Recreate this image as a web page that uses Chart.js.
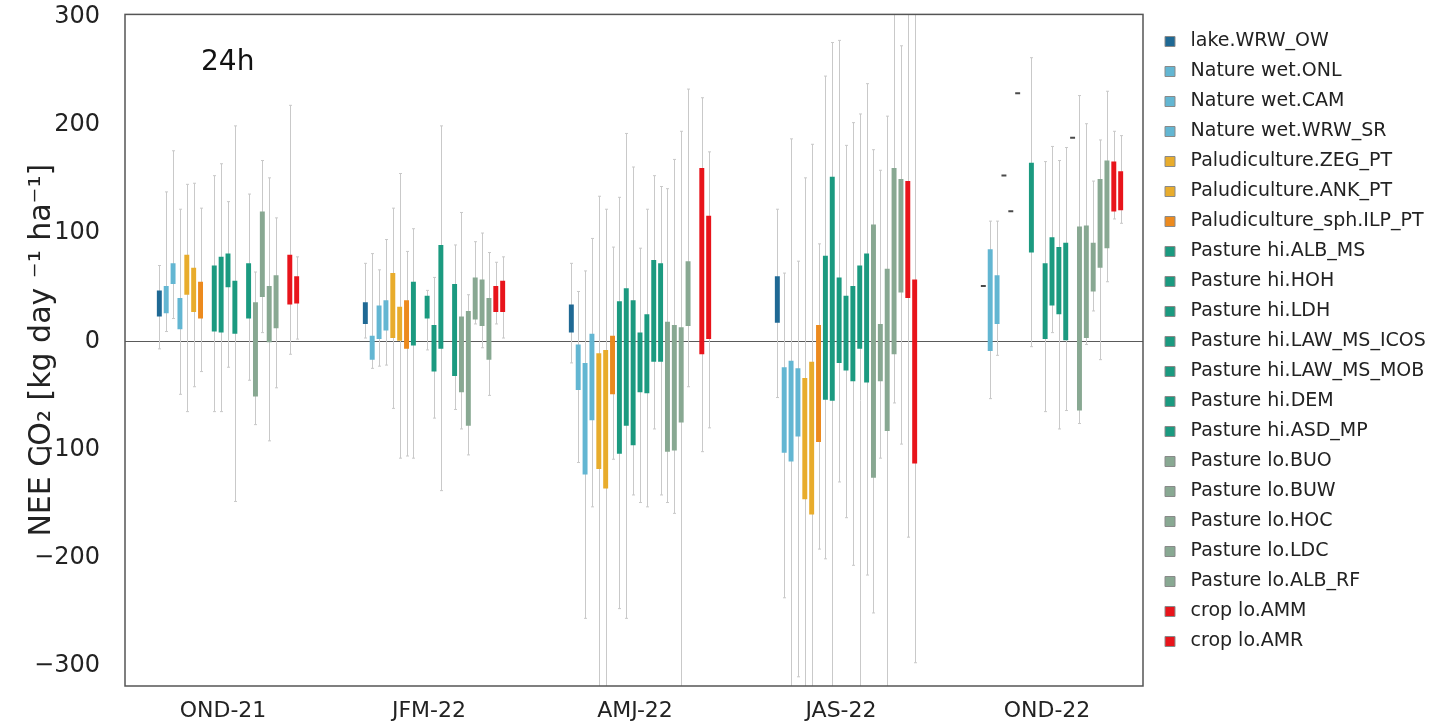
<!DOCTYPE html>
<html>
<head>
<meta charset="utf-8">
<script src="https://cdn.jsdelivr.net/npm/chart.js@4.4.1/dist/chart.umd.min.js"></script>
<style>
  html, body { margin: 0; padding: 0; background: #fff; }
  #wrap { position: relative; width: 1445px; height: 723px; }
</style>
</head>
<body>
<div id="wrap"><canvas id="nee"></canvas></div>
<script>
const quarters = ['OND-21', 'JFM-22', 'AMJ-22', 'JAS-22', 'OND-22'];

const sites = [
  'lake.WRW_OW',
  'Nature wet.ONL', 'Nature wet.CAM', 'Nature wet.WRW_SR',
  'Paludiculture.ZEG_PT', 'Paludiculture.ANK_PT', 'Paludiculture_sph.ILP_PT',
  'Pasture hi.ALB_MS', 'Pasture hi.HOH', 'Pasture hi.LDH', 'Pasture hi.LAW_MS_ICOS',
  'Pasture hi.LAW_MS_MOB', 'Pasture hi.DEM', 'Pasture hi.ASD_MP',
  'Pasture lo.BUO', 'Pasture lo.BUW', 'Pasture lo.HOC', 'Pasture lo.LDC', 'Pasture lo.ALB_RF',
  'crop lo.AMM', 'crop lo.AMR'
];

const siteColors = [
  '#1f6994',
  '#63b6d2', '#63b6d2', '#63b6d2',
  '#e8ac2c', '#e8ac2c', '#ec8a1e',
  '#1b9a80', '#1b9a80', '#1b9a80', '#1b9a80', '#1b9a80', '#1b9a80', '#1b9a80',
  '#88a892', '#88a892', '#88a892', '#88a892', '#88a892',
  '#e8141b', '#e8141b'
];

const yTicks = [-300, -200, -100, 0, 100, 200, 300];

// one value per site (same order as sites), null = no data that quarter
// lo/hi = whisker ends, q1/q3 = box
const lo_OND21 = [-7, 9, 21, -49, -65, -42, -28, null, -65, -65, -24, -148, null, -36, -77, 8, -92, -43, null, -12, 2];
const q1_OND21 = [23, 26, 53, 11, 43, 27, 21, null, 9, 8, 50, 7, null, 21, -51, 41, -1, 12, null, 34, 35];
const q3_OND21 = [47, 51, 72, 40, 80, 68, 55, null, 70, 78, 81, 56, null, 72, 36, 120, 51, 61, null, 80, 60];
const hi_OND21 = [70, 138, 176, 122, 145, 146, 123, null, 153, 164, 129, 199, null, 136, 64, 167, 151, 114, null, 218, 78];

const lo_JFM22 = [3, -25, -23, -22, -62, -108, -106, -108, null, -8, -71, -138, null, -63, -81, -105, 16, -6, -50, 16, 3];
const q1_JFM22 = [16, -17, 2, 10, 3, 0, -7, -4, null, 21, -28, -7, null, -32, -47, -78, 20, 14, -17, 27, 27];
const q3_JFM22 = [36, 5, 33, 38, 63, 32, 38, 55, null, 42, 15, 89, null, 53, 23, 28, 59, 57, 40, 51, 56];
const hi_JFM22 = [72, 81, 66, 94, 123, 155, 83, 104, null, 47, 59, 199, null, 89, 119, 43, 92, 100, 82, 73, 78];

const lo_AMJ22 = [-20, -112, -256, -153, -330, -330, -109, -247, -256, -142, -149, -153, -81, -142, -149, -159, -330, -42, null, -102, -80];
const q1_AMJ22 = [8, -45, -123, -73, -118, -136, -49, -104, -78, -96, -47, -48, -19, -19, -102, -101, -75, 14, null, -12, 2];
const q3_AMJ22 = [34, -3, -20, 7, -11, -8, 5, 37, 49, 38, 8, 25, 75, 72, 18, 15, 13, 74, null, 160, 116];
const hi_AMJ22 = [72, 46, 65, 95, 134, 122, 87, 133, 192, 161, 86, 122, 153, 143, 141, 168, 194, 233, null, 225, 175];

const lo_JAS22 = [-52, -237, -330, -310, -330, -330, -192, -201, -330, -130, -163, -207, -330, -216, -251, -108, -330, -57, -95, -181, -297];
const q1_JAS22 = [17, -103, -111, -88, -146, -160, -93, -54, -55, -20, -27, -37, -7, -38, -126, -37, -83, -12, 45, 40, -113];
const q3_JAS22 = [60, -24, -18, -25, -34, -19, 15, 79, 152, 59, 42, 51, 70, 81, 108, 16, 67, 160, 150, 148, 57];
const hi_JAS22 = [122, 63, 187, 74, 151, 182, 90, 245, 276, 278, 181, 202, 210, 238, 177, 158, 208, 330, 273, 330, 330];

const lo_OND22 = [52, -53, -13, 154, 121, 230, null, -5, null, -65, 8, -81, -64, 189, -76, -3, 28, -17, 55, 113, 109];
const q1_OND22 = [52, -9, 16, 154, 121, 230, null, 82, null, 2, 33, 25, 1, 189, -64, 3, 46, 68, 86, 120, 121];
const q3_OND22 = [52, 85, 61, 154, 121, 230, null, 165, null, 72, 96, 87, 91, 189, 106, 107, 91, 150, 167, 166, 157];
const hi_OND22 = [52, 111, 111, 154, 121, 230, null, 262, null, 166, 180, 167, 179, 189, 227, 201, 148, 186, 231, 194, 190];

const loAll = [lo_OND21, lo_JFM22, lo_AMJ22, lo_JAS22, lo_OND22];
const q1All = [q1_OND21, q1_JFM22, q1_AMJ22, q1_JAS22, q1_OND22];
const q3All = [q3_OND21, q3_JFM22, q3_AMJ22, q3_JAS22, q3_OND22];
const hiAll = [hi_OND21, hi_JFM22, hi_AMJ22, hi_JAS22, hi_OND22];

const FONT = 'DejaVu Sans';

const datasets = sites.map((name, s) => ({
  label: name,
  data: quarters.map((q, c) => q1All[c][s] === null ? null : [q1All[c][s], q3All[c][s]]),
  whiskers: quarters.map((q, c) => loAll[c][s] === null ? null : [loAll[c][s], hiAll[c][s]]),
  // a box that is only one value shows as a dark dash
  backgroundColor: ctx => {
    const v = ctx.raw;
    return (v && v[0] === v[1]) ? '#4a4a4a' : siteColors[s];
  },
  legendColor: siteColors[s],
  borderWidth: 0,
  borderSkipped: false,
  minBarLength: 2,
  barPercentage: 0.72,
  categoryPercentage: 0.70
}));

// thin grey whiskers behind the boxes
const whiskerPlugin = {
  id: 'whiskers',
  beforeDatasetsDraw(chart) {
    const { ctx, chartArea, scales: { y } } = chart;
    ctx.save();
    ctx.beginPath();
    ctx.rect(chartArea.left, chartArea.top, chartArea.width, chartArea.height);
    ctx.clip();
    ctx.strokeStyle = '#c9c9c9';
    ctx.lineWidth = 1;
    chart.data.datasets.forEach((ds, i) => {
      if (!chart.isDatasetVisible(i)) return;
      chart.getDatasetMeta(i).data.forEach((bar, j) => {
        const w = ds.whiskers[j];
        if (!w || w[0] === w[1]) return;
        const x = Math.round(bar.x) + 0.5;
        const yLo = y.getPixelForValue(w[0]);
        const yHi = y.getPixelForValue(w[1]);
        ctx.beginPath();
        ctx.moveTo(x, yLo); ctx.lineTo(x, yHi);
        ctx.moveTo(x - 1.5, yLo); ctx.lineTo(x + 1.5, yLo);
        ctx.moveTo(x - 1.5, yHi); ctx.lineTo(x + 1.5, yHi);
        ctx.stroke();
      });
    });
    ctx.restore();
  }
};

// frame round the plot + the "24h" note
const framePlugin = {
  id: 'frame',
  afterDraw(chart) {
    const { ctx, chartArea } = chart;
    ctx.save();
    ctx.strokeStyle = '#555';
    ctx.lineWidth = 1.5;
    ctx.strokeRect(chartArea.left, chartArea.top, chartArea.width, chartArea.height);
    ctx.fillStyle = '#111';
    ctx.font = '28px "' + FONT + '"';
    ctx.textBaseline = 'middle';
    ctx.fillText('24h', chartArea.left + 76, chartArea.top + 48);
    ctx.restore();
  }
};

// fixed legend width, legend nudged, quarters spaced a bit wider than the frame (as in the original)
const layoutPlugin = {
  id: 'layoutTweaks',
  beforeInit(chart) {
    const origFit = chart.legend.fit;
    chart.legend.fit = function () {
      origFit.call(this);
      this.width = 302;
    };
  },
  afterLayout(chart) {
    chart.legend.left += 11;
    chart.legend.top += 19;
    const x = chart.scales.x;
    x._length += 12;
    x._endPixel += 12;
  }
};

new Chart(document.getElementById('nee'), {
  type: 'bar',
  data: { labels: quarters, datasets: datasets },
  plugins: [layoutPlugin, whiskerPlugin, framePlugin],
  options: {
    responsive: true,
    maintainAspectRatio: false,
    animation: false,
    layout: { padding: { top: 2, right: 0, bottom: 0, left: 0 } },
    plugins: {
      tooltip: { enabled: false },
      legend: {
        position: 'right',
        align: 'start',
        labels: {
          boxWidth: 10,
          boxHeight: 10,
          padding: 11,
          color: '#222',
          font: { family: FONT, size: 19 },
          generateLabels(chart) {
            const items = Chart.defaults.plugins.legend.labels.generateLabels(chart);
            items.forEach((it, i) => {
              it.text = ' ' + it.text;
              it.fillStyle = chart.data.datasets[i].legendColor;
              it.strokeStyle = '#8a8a8a';
              it.lineWidth = 1;
            });
            return items;
          }
        }
      }
    },
    scales: {
      x: {
        afterFit: s => { s.height = 37; },
        grid: { display: false, drawTicks: false },
        border: { display: false },
        ticks: { padding: 12, labelOffset: -5, color: '#222', font: { family: FONT, size: 22 } }
      },
      y: {
        min: -318.5,
        max: 302,
        afterBuildTicks: s => { s.ticks = yTicks.map(v => ({ value: v })); },
        afterFit: s => { s.width = 125; },
        grid: {
          drawTicks: true,
          tickLength: 25,
          tickColor: 'rgba(0,0,0,0)',
          lineWidth: 1,
          color: c => (c.tick && c.tick.value === 0) ? '#5a5a5a' : 'rgba(0,0,0,0)'
        },
        border: { display: false },
        ticks: {
          padding: 0,
          color: '#222',
          font: { family: FONT, size: 24 },
          callback: v => String(v).replace('-', '\u2212')
        },
        title: {
          display: true,
          text: 'NEE CO\u2082 [kg day \u207B\u00B9 ha\u207B\u00B9]',
          color: '#222',
          font: { family: FONT, size: 30 },
          padding: { top: 24, bottom: 0 }
        }
      }
    }
  }
});
</script>
</body>
</html>
